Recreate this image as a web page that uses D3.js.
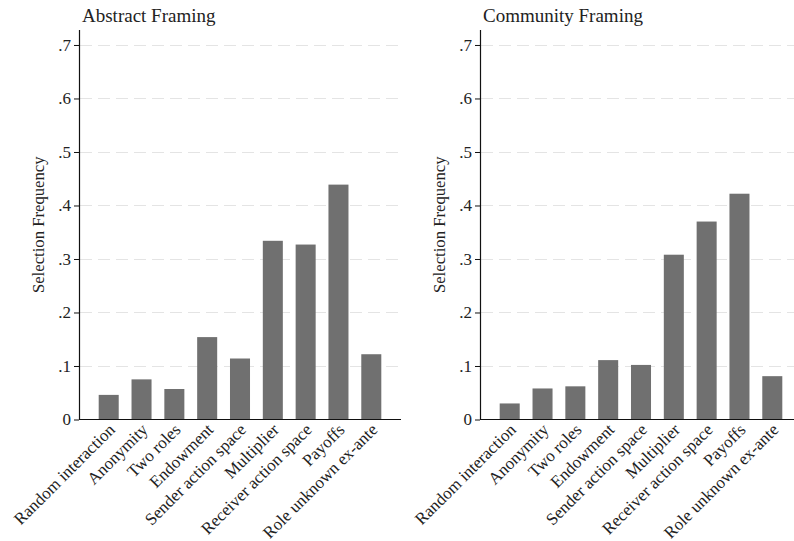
<!DOCTYPE html>
<html>
<head>
<meta charset="utf-8">
<script src="https://cdn.jsdelivr.net/npm/d3@7"></script>
<style>
  body { margin: 0; background: #fff; }
  svg { display: block; }
  text { font-family: "Liberation Serif", "DejaVu Serif", serif; fill: #222; }
</style>
</head>
<body>
<div id="chart"></div>
<script>
"use strict";

var categories = ["Random interaction", "Anonymity", "Two roles", "Endowment",
  "Sender action space", "Multiplier", "Receiver action space", "Payoffs",
  "Role unknown ex-ante"];
var abstractValues = [0.046, 0.075, 0.057, 0.154, 0.114, 0.334, 0.327, 0.439, 0.122];
var communityValues = [0.030, 0.058, 0.062, 0.111, 0.102, 0.308, 0.370, 0.422, 0.081];
var panelTitles = ["Abstract Framing", "Community Framing"];
var yTicks = [0, 0.1, 0.2, 0.3, 0.4, 0.5, 0.6, 0.7];
var yLabel = "Selection Frequency";

var width = 794, height = 541;
var panelOffsets = [0, 401];
var plotLeft = 79, plotRight = 401, plotTop = 30, plotBottom = 419.5;
var serif = "Liberation Serif";

var svg = d3.select("#chart").append("svg")
    .attr("width", width)
    .attr("height", height);

var series = [abstractValues, communityValues];

series.forEach(function(values, p) {
  var g = svg.append("g").attr("transform", "translate(" + panelOffsets[p] + ",0)");

  var x = d3.scaleBand()
      .domain(categories)
      .range([plotLeft, plotRight])
      .paddingInner(0.39)
      .paddingOuter(0.6);

  var y = d3.scaleLinear()
      .domain([0, 0.728])
      .range([plotBottom, plotTop]);

  // dashed grid
  g.append("g").selectAll("line")
    .data(yTicks.filter(function(d) { return d > 0; }))
    .enter().append("line")
      .attr("x1", plotLeft + 1).attr("x2", plotRight - 2)
      .attr("y1", function(d) { return Math.round(y(d)) + 0.5; })
      .attr("y2", function(d) { return Math.round(y(d)) + 0.5; })
      .attr("stroke", "#e4e4e4")
      .attr("stroke-width", 1)
      .attr("stroke-dasharray", "12,6");

  // bars
  g.append("g").selectAll("rect")
    .data(values)
    .enter().append("rect")
      .attr("x", function(d, i) { return x(categories[i]); })
      .attr("width", x.bandwidth())
      .attr("y", function(d) { return y(d); })
      .attr("height", function(d) { return y(0) - y(d); })
      .attr("fill", "#707070");

  // y axis
  var yAxis = d3.axisLeft(y)
      .tickValues(yTicks)
      .tickSize(5)
      .tickPadding(3)
      .tickFormat(function(d) { return d === 0 ? "0" : d3.format(".1f")(d).replace(/^0/, ""); });

  var ya = g.append("g")
      .attr("transform", "translate(" + plotLeft + ",0)")
      .call(yAxis);
  ya.select(".domain").remove();
  ya.selectAll("line").attr("stroke", "#111");
  ya.selectAll("text")
    .style("font-family", serif)
    .style("font-size", "17px")
    .attr("fill", "#222");

  g.append("line")
    .attr("x1", plotLeft + 0.5).attr("x2", plotLeft + 0.5)
    .attr("y1", plotTop).attr("y2", plotBottom)
    .attr("stroke", "#111").attr("stroke-width", 1.2);

  // x axis
  var xa = g.append("g")
      .attr("transform", "translate(0," + plotBottom + ")")
      .call(d3.axisBottom(x).tickSize(0).tickPadding(0));
  xa.select(".domain").remove();
  xa.selectAll("text")
    .attr("text-anchor", "end")
    .attr("transform", "translate(3,7) rotate(-45)")
    .attr("dy", "0.35em")
    .attr("y", 0)
    .style("font-family", serif)
    .style("font-size", "17px")
    .attr("fill", "#222");

  g.append("line")
    .attr("x1", plotLeft).attr("x2", plotRight)
    .attr("y1", plotBottom).attr("y2", plotBottom)
    .attr("stroke", "#111").attr("stroke-width", 1.2);

  // titles
  g.append("text")
    .attr("x", plotLeft + 3)
    .attr("y", 22)
    .style("font-size", "19px")
    .text(panelTitles[p]);

  g.append("text")
    .attr("transform", "translate(44," + ((plotTop + plotBottom) / 2) + ") rotate(-90)")
    .attr("text-anchor", "middle")
    .style("font-size", "16.7px")
    .text(yLabel);
});
</script>
</body>
</html>
